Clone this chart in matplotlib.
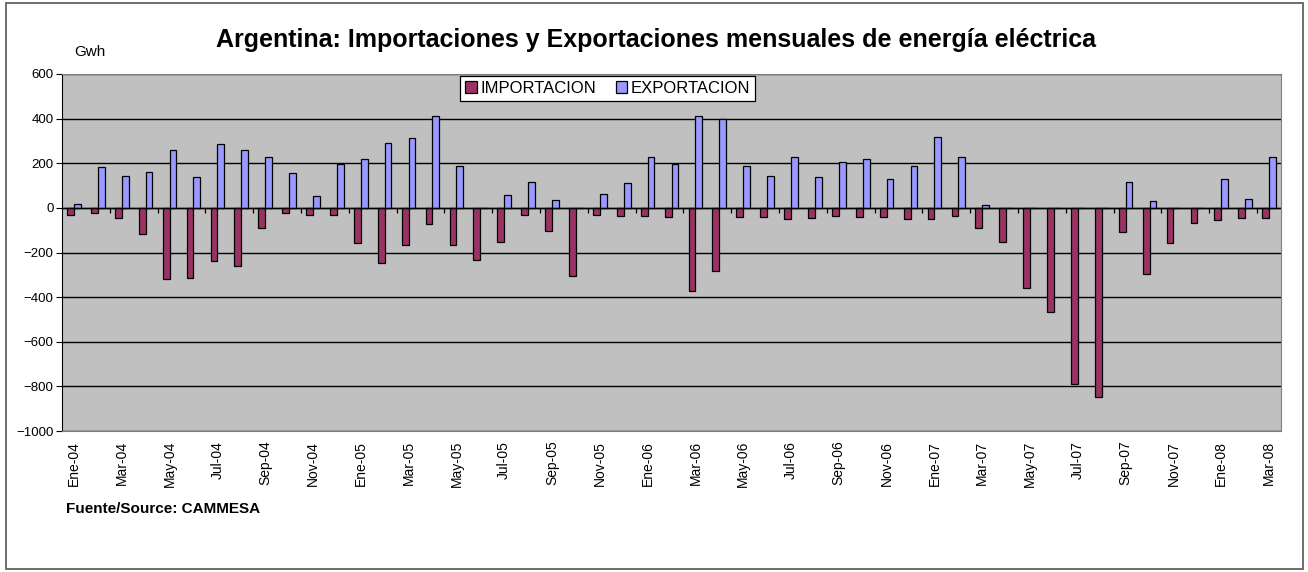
import matplotlib.pyplot as plt
import numpy as np
from matplotlib.patches import Rectangle

# Monthly data, Ene-04 .. Mar-08 (Gwh)
meses = ["Ene", "Feb", "Mar", "Abr", "May", "Jun", "Jul", "Ago", "Sep", "Oct", "Nov", "Dic"]
anios = ["04", "05", "06", "07", "08"]
labels = [f"{m}-{a}" for a in anios for m in meses][:51]

importacion = [-31, -24, -47, -117, -319, -313, -237, -259, -90, -24, -31, -30,
               -156, -247, -166, -74, -166, -233, -151, -31, -102, -304, -31, -36,
               -36, -41, -373, -284, -41, -41, -52, -47, -36, -41, -41, -52,
               -52, -36, -92, -151, -361, -467, -790, -847, -107, -298, -156, -68,
               -53, -47, -47]
exportacion = [19, 182, 145, 160, 259, 139, 286, 259, 227, 156, 52, 197,
               221, 292, 314, 412, 188, 0, 58, 117, 36, 0, 64, 113,
               227, 197, 412, 399, 188, 145, 227, 139, 204, 221, 130, 188,
               319, 227, 13, 0, 0, 0, 0, 0, 117, 31, 0, 0,
               130, 41, 227]

W, H = 1308, 572
fig = plt.figure(figsize=(W / 100, H / 100), dpi=100)
plt.rcParams['font.family'] = ['Liberation Sans', 'DejaVu Sans']

ax = fig.add_axes([62 / W, 1 - 431 / H, (1281 - 62) / W, (431 - 74) / H])
ax.set_facecolor('#C0C0C0')

x = np.arange(len(labels))
bw = 0.285
ax.bar(x - bw / 2, importacion, bw, color='#993366', edgecolor='black', linewidth=0.9,
       label='IMPORTACION', zorder=3)
ax.bar(x + bw / 2, exportacion, bw, color='#9999FF', edgecolor='black', linewidth=0.9,
       label='EXPORTACION', zorder=3)

ax.set_xlim(-0.5, len(labels) - 0.5)
ax.set_ylim(-1000, 600)
ax.set_yticks(np.arange(-1000, 601, 200))
ax.tick_params(axis='y', labelsize=9.5, length=4, width=0.8, direction='out', pad=2)
ax.yaxis.grid(True, color='black', linewidth=1, zorder=1)
ax.set_axisbelow(True)

ax.set_xticks(x[::2])
ax.set_xticklabels(labels[::2], rotation=90, fontsize=10)
ax.tick_params(axis='x', length=0, pad=7)

# category axis at zero with small tick marks
ax.axhline(0, color='black', linewidth=1, zorder=4)
ax.vlines(np.arange(1.5, len(labels) - 1, 2), -22, 0, color='black', linewidth=0.9, zorder=4)

for s in ['top', 'right', 'bottom']:
    ax.spines[s].set_color('#808080')
ax.spines['left'].set_color('black')

leg = ax.legend(loc='upper left', bbox_to_anchor=(460 / W, 1 - 76 / H),
                bbox_transform=fig.transFigure, ncol=2, fontsize=12,
                frameon=True, fancybox=False, edgecolor='black', framealpha=1,
                handlelength=0.7, handleheight=0.7, handletextpad=0.2,
                columnspacing=1.2, borderpad=0.3, borderaxespad=0)
leg.get_frame().set_linewidth(0.9)

fig.text(656 / W, 1 - 40 / H,
         "Argentina: Importaciones y Exportaciones mensuales de energía eléctrica",
         ha='center', va='center', fontsize=18, fontweight='bold')
fig.text(74 / W, 1 - 52 / H, "Gwh", ha='left', va='center', fontsize=11)
fig.text(66 / W, 1 - 509 / H, "Fuente/Source: CAMMESA", ha='left', va='center',
         fontsize=11, fontweight='bold')

# outer chart frame
fig.patches.append(Rectangle((6 / W, 1 - 569 / H), (1303 - 6) / W, (569 - 3) / H,
                             transform=fig.transFigure, fill=False,
                             edgecolor='#555555', linewidth=1.2))

fig.savefig("out.png", dpi=100)
